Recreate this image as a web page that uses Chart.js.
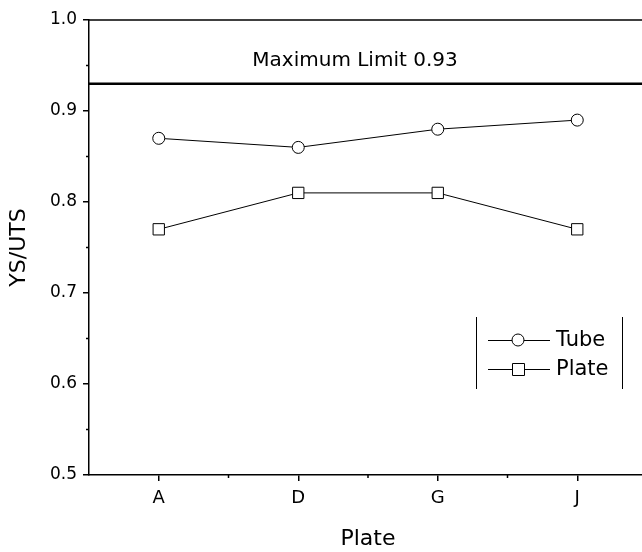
<!DOCTYPE html>
<html>
<head>
<meta charset="utf-8">
<script src="https://cdn.jsdelivr.net/npm/chart.js@4"></script>
<style>
  html, body { margin: 0; padding: 0; background: #fff; overflow: hidden; }
  #wrap { width: 656px; height: 552px; }
</style>
</head>
<body>
<div id="wrap"><canvas id="chart" width="656" height="552"></canvas></div>
<script>
// chart data
const plates = ["A", "D", "G", "J"];
const tubeValues = [0.87, 0.86, 0.88, 0.89];
const plateValues = [0.77, 0.81, 0.81, 0.77];
const limitValue = 0.93;
const limitLabel = "Maximum Limit 0.93";
const yTicks = [0.5, 0.6, 0.7, 0.8, 0.9, 1.0];

const FONT = "'DejaVu Sans', sans-serif";

// draws frame top, limit line, minor ticks and the legend
const extrasPlugin = {
  id: "extras",
  afterDraw(chart) {
    const ctx = chart.ctx;
    const area = chart.chartArea;
    const x = chart.scales.x;
    const y = chart.scales.y;
    ctx.save();
    ctx.strokeStyle = "#000";
    ctx.fillStyle = "#000";

    // top border
    ctx.lineWidth = 1.5;
    ctx.beginPath();
    ctx.moveTo(area.left, area.top);
    ctx.lineTo(area.right, area.top);
    ctx.stroke();

    // limit line
    const ly = y.getPixelForValue(limitValue);
    ctx.lineWidth = 2.5;
    ctx.beginPath();
    ctx.moveTo(area.left, ly);
    ctx.lineTo(area.right, ly);
    ctx.stroke();
    ctx.font = "20px " + FONT;
    ctx.textAlign = "center";
    ctx.textBaseline = "middle";
    ctx.fillText(limitLabel, 355, 61);

    // minor y ticks
    ctx.lineWidth = 1.5;
    for (let i = 0; i < yTicks.length - 1; i++) {
      const py = y.getPixelForValue((yTicks[i] + yTicks[i + 1]) / 2);
      ctx.beginPath();
      ctx.moveTo(area.left - 3, py);
      ctx.lineTo(area.left, py);
      ctx.stroke();
    }
    // minor x ticks
    for (let i = 0; i < plates.length - 1; i++) {
      const px = (x.getPixelForValue(i) + x.getPixelForValue(i + 1)) / 2;
      ctx.beginPath();
      ctx.moveTo(px, area.bottom);
      ctx.lineTo(px, area.bottom + 3);
      ctx.stroke();
    }

    // legend
    ctx.lineWidth = 1;
    ctx.beginPath();
    ctx.moveTo(476.5, 317);
    ctx.lineTo(476.5, 389);
    ctx.moveTo(622.5, 317);
    ctx.lineTo(622.5, 389);
    ctx.stroke();
    const rows = [
      { label: "Tube", yy: 340, shape: "circle" },
      { label: "Plate", yy: 369, shape: "square" }
    ];
    ctx.font = "21px " + FONT;
    ctx.textAlign = "left";
    rows.forEach(r => {
      ctx.beginPath();
      ctx.moveTo(488, r.yy + 0.5);
      ctx.lineTo(550, r.yy + 0.5);
      ctx.stroke();
      ctx.fillStyle = "#fff";
      ctx.beginPath();
      if (r.shape === "circle") {
        ctx.arc(518, r.yy, 6, 0, Math.PI * 2);
      } else {
        ctx.rect(512.5, r.yy - 5.5, 12, 12);
      }
      ctx.fill();
      ctx.stroke();
      ctx.fillStyle = "#000";
      ctx.fillText(r.label, 556, r.yy + 1);
    });
    ctx.restore();
  }
};

new Chart(document.getElementById("chart"), {
  type: "line",
  data: {
    labels: plates,
    datasets: [
      {
        label: "Tube",
        data: tubeValues,
        borderColor: "#000",
        borderWidth: 1,
        pointStyle: "circle",
        pointRadius: 6,
        pointBackgroundColor: "#fff",
        pointBorderColor: "#000",
        pointBorderWidth: 1,
        tension: 0
      },
      {
        label: "Plate",
        data: plateValues,
        borderColor: "#000",
        borderWidth: 1,
        pointStyle: "rect",
        pointRadius: 8,
        pointBackgroundColor: "#fff",
        pointBorderColor: "#000",
        pointBorderWidth: 1,
        tension: 0
      }
    ]
  },
  options: {
    responsive: false,
    animation: false,
    layout: { padding: { top: 20, right: 1, left: 0, bottom: 0 } },
    plugins: {
      legend: { display: false },
      tooltip: { enabled: false }
    },
    scales: {
      x: {
        type: "category",
        offset: true,
        grid: {
          offset: false,
          drawOnChartArea: false,
          drawTicks: true,
          tickLength: 6,
          color: "#000",
          lineWidth: 1.5
        },
        border: { color: "#000", width: 1.5 },
        ticks: { color: "#000", font: { family: FONT, size: 18 }, padding: 7 },
        title: {
          display: true,
          text: "Plate",
          color: "#000",
          font: { family: FONT, size: 22 },
          padding: { top: 10, bottom: 0 }
        },
        afterFit(scale) {
          scale.height = 77;
          scale.paddingLeft = 0;
          scale.paddingRight = 0;
        }
      },
      y: {
        min: 0.5,
        max: 1.0,
        afterBuildTicks(scale) {
          scale.ticks = yTicks.map(v => ({ value: v }));
        },
        grid: {
          drawOnChartArea: false,
          drawTicks: true,
          tickLength: 6,
          color: "#000",
          lineWidth: 1.5
        },
        border: { color: "#000", width: 1.5 },
        ticks: {
          color: "#000",
          font: { family: FONT, size: 17 },
          padding: 6,
          callback: v => v.toFixed(1)
        },
        title: {
          display: true,
          text: "YS/UTS",
          color: "#000",
          font: { family: FONT, size: 22 },
          padding: { top: 6, bottom: 4 }
        },
        afterFit(scale) {
          scale.width = 89;
          scale.paddingTop = 0;
          scale.paddingBottom = 0;
        }
      }
    }
  },
  plugins: [extrasPlugin]
});
</script>
</body>
</html>
